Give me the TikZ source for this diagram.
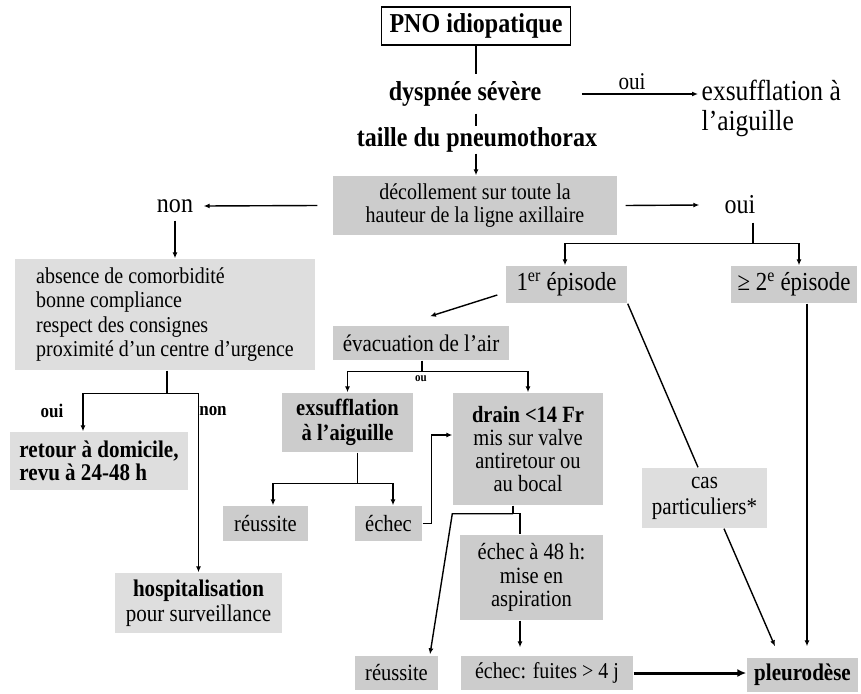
\documentclass[tikz,border=0pt]{standalone}
\usepackage{fontspec}
\setmainfont{Liberation Serif}[FakeStretch=0.88]
\usetikzlibrary{arrows.meta,calc}
\definecolor{gA}{RGB}{204,204,204}
\definecolor{gB}{RGB}{222,222,222}
\begin{document}
\begin{tikzpicture}[x=1pt,y=-1pt,line width=1.4pt,
  >={Latex[length=6pt,width=5pt]},
  box/.style={fill=gA,inner sep=0pt,align=center,font=\fontsize{23.3}{24}\selectfont},
  lbox/.style={box,fill=gB},
  hdr/.style={inner sep=0pt,font=\fontsize{27.3}{28}\selectfont\bfseries},
  lbl/.style={inner sep=0pt,font=\fontsize{27.3}{28}\selectfont},
  smallb/.style={inner sep=0pt,font=\fontsize{19.3}{20}\selectfont\bfseries}]
\useasboundingbox (0,0) rectangle (861,693);

% top
\node[draw=black,line width=1.2pt,fill=white,inner sep=0pt,minimum width=189pt,minimum height=38pt,
  font=\fontsize{27.3}{28}\selectfont\bfseries] (pno) at (476,26) {PNO idiopatique};
\node[hdr,minimum height=38pt] (dysp) at (465,94) {dyspnée sévère};
\node[hdr,minimum height=26pt] (taille) at (477,140) {taille du pneumothorax};
\node[lbl,align=left,anchor=west,font=\fontsize{29}{30}\selectfont] (exsT) at (701,108) {exsufflation à\\l’aiguille};
\node[lbl,font=\fontsize{24}{24}\selectfont] (oui1) at (632,82) {oui};

\node[box,minimum width=284pt,minimum height=59pt,font=\fontsize{22.7}{23}\selectfont] (decol) at (475,205.5)
  {décollement sur toute la\\hauteur de la ligne axillaire};
\node[lbl,minimum width=56pt,minimum height=28pt] (non1) at (175,206) {non};
\node[lbl,minimum width=80pt,minimum height=34pt] (oui2) at (740,205) {oui};

% left branch
\node[lbox,align=left,minimum width=300pt,minimum height=111pt,font=\fontsize{22.7}{24.3}\selectfont] (abs) at (165,314.5)
  {absence de comorbidité\\bonne compliance\\respect des consignes\\proximité d’un centre d’urgence};
\node[lbox,align=left,minimum width=178pt,minimum height=58pt,font=\fontsize{23.9}{23}\selectfont\bfseries] (retour) at (99,461)
  {retour à domicile,\\revu à 24-48 h};
\node[lbox,minimum width=167pt,minimum height=60pt,font=\fontsize{23.9}{25}\selectfont] (hosp) at (198.5,603)
  {\textbf{hospitalisation}\\pour surveillance};
\node[smallb] (lo) at (52,411) {oui};
\node[smallb] (ln) at (213,411) {non};

% right branch
\node[box,minimum width=121pt,minimum height=37pt,font=\fontsize{26}{27}\selectfont] (ep1) at (566.5,284.5) {1\textsuperscript{er} épisode};
\node[box,minimum width=126pt,minimum height=37pt,font=\fontsize{26}{27}\selectfont] (ep2) at (794,284.5) {≥ 2\textsuperscript{e} épisode};
\node[box,minimum width=176pt,minimum height=34pt,font=\fontsize{23.9}{24}\selectfont] (evac) at (421,343) {évacuation de l’air};
\node[inner sep=0pt,font=\fontsize{12.5}{12}\selectfont\bfseries] (ou) at (421,379) {ou};
\node[box,minimum width=131pt,minimum height=59pt,font=\fontsize{23.3}{25}\selectfont\bfseries] (exsB) at (347.5,422.5)
  {exsufflation\\à l’aiguille};
\node[box,minimum width=150pt,minimum height=112pt,font=\fontsize{23.3}{23}\selectfont] (drain) at (528,449)
  {\textbf{drain <14 Fr}\\mis sur valve\\antiretour ou\\au bocal};
\node[box,minimum width=85pt,minimum height=35pt] (reu1) at (265.5,523.5) {réussite};
\node[box,minimum width=67pt,minimum height=35pt] (ech1) at (388.5,523.5) {échec};
\node[box,minimum width=143pt,minimum height=85pt,font=\fontsize{23.3}{23.5}\selectfont] (ech48) at (531.5,577.5)
  {échec à 48 h:\\mise en\\aspiration};
\node[box,minimum width=83pt,minimum height=34pt] (reu2) at (396.5,673) {réussite};
\node[box,minimum width=172pt,minimum height=34pt,font=\fontsize{22.7}{24}\selectfont] (echF) at (547,673) {échec: fuites > 4 j};
\node[lbox,minimum width=125pt,minimum height=60pt,font=\fontsize{23.9}{26}\selectfont] (cas) at (704.5,498) {cas\\particuliers*};
\node[box,minimum width=111pt,minimum height=34pt,font=\fontsize{23.9}{24}\selectfont\bfseries] (pleu) at (802.5,675) {pleurodèse};

% connectors top
\draw (pno.south) -- (pno.south |- dysp.north);
\draw (dysp.south -| pno.south) -- (taille.north -| pno.south);
\draw[->] (taille.south -| pno.south) -- (decol.north -| pno.south);
\draw[->] ([xshift=40pt]dysp.east) -- ([xshift=-3pt]dysp.east -| exsT.west);
\draw[->] ([xshift=-15pt]decol.west) -- (non1.east);
\draw[->] ([xshift=8pt]decol.east) -- (oui2.west);

% left connectors
\draw[->] (non1.south) -- (abs.north -| non1.south);
\draw ([xshift=2pt]abs.south) -- ++(0,23) coordinate (s2);
\draw[->] (s2) -| ([xshift=-16pt]retour.north);
\draw[->] (s2) -| (hosp.north);

% right connectors
\draw ([xshift=13pt]oui2.south) -- ++(0,21) coordinate (s1);
\draw[->] (s1) -| ([xshift=-1.5pt]ep1.north);
\draw[->] (s1) -| ([xshift=5pt]ep2.north);
\draw[->] ([shift={(-8,10.5)}]ep1.west) -- ([shift={(9,-9)}]evac.north);
\draw ([xshift=1pt]evac.south) -- ++(0,11) coordinate (s3);
\draw[->] (s3) -| (exsB.north);
\draw[->] (s3) -| (drain.north);
\draw ([xshift=10pt]exsB.south) -- ++(0,31) coordinate (s4);
\draw[->] (s4) -| ([xshift=7.5pt]reu1.north);
\draw[->] (s4) -| ([xshift=4.5pt]ech1.north);
\draw[->] (ech1.east) -- ++(9,0) |- ([shift={(0,-14)}]drain.west);
\draw ([xshift=-15pt]drain.south) -- ++(0,8) coordinate (s5);
\draw[->] (s5) -- (s5 -| drain.west) -- ([shift={(33.5,-1)}]reu2.north);
\draw (s5) -| ([xshift=-11.5pt]ech48.north);
\draw[->] ([xshift=-11.5pt]ech48.south) -- ([shift={(-27,-8)}]echF.north);
\draw[line width=3pt,-{Latex[length=9pt,width=8pt]}] (echF.east) -- (echF.east -| pleu.west);
\draw (ep1.south east) -- ([xshift=-6.5pt]cas.north);
\draw[->] ([xshift=19.5pt]cas.south) -- ([shift={(-27.5,-11)}]pleu.north);
\draw[->] ([xshift=13pt]ep2.south) -- ([shift={(4.5,-11)}]pleu.north);
\end{tikzpicture}
\end{document}
